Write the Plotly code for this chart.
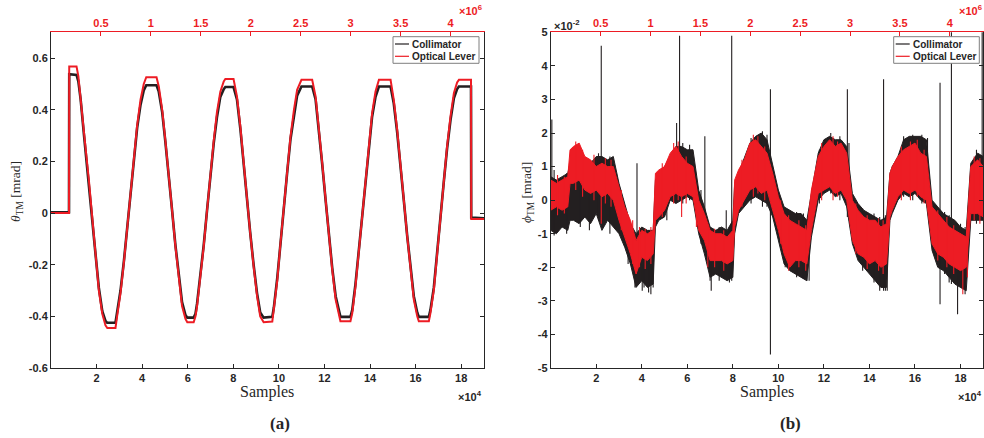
import plotly.graph_objects as go

# ---- panel (a): theta_TM [mrad] vs samples (x in units of 1e4) ----
samp_a = [0.00, 0.79, 0.80, 1.12, 1.20, 1.30, 1.45, 1.66, 1.81, 1.96, 2.10, 2.25, 2.39, 2.47, 2.83,
          2.90, 3.05, 3.20, 3.34, 3.49, 3.64, 3.78, 3.93, 4.07, 4.18, 4.63,
          4.73, 4.88, 5.02, 5.17, 5.31, 5.46, 5.61, 5.75, 5.90, 5.98, 6.26,
          6.34, 6.41, 6.55, 6.70, 6.85, 6.99, 7.14, 7.28, 7.43, 7.58, 7.65, 8.01,
          8.16, 8.31, 8.45, 8.60, 8.74, 8.89, 9.04, 9.18, 9.33, 9.71,
          9.78, 9.93, 10.07, 10.22, 10.37, 10.51, 10.66, 10.80, 10.99, 11.46,
          11.61, 11.75, 11.90, 12.05, 12.19, 12.34, 12.49, 12.63, 12.70, 13.14,
          13.22, 13.36, 13.51, 13.65, 13.80, 13.95, 14.09, 14.24, 14.39, 14.90,
          15.04, 15.19, 15.34, 15.48, 15.63, 15.77, 15.92, 16.07, 16.14, 16.58,
          16.65, 16.80, 16.94, 17.09, 17.24, 17.38, 17.53, 17.68, 17.82, 17.90, 18.43,
          18.44, 19.00]
optlev_a = [0.000, 0.000, 0.568, 0.568, 0.530, 0.450, 0.310, 0.130, -0.010, -0.170, -0.300, -0.390, -0.435, -0.445, -0.445,
            -0.400, -0.310, -0.190, -0.065, 0.077, 0.210, 0.340, 0.440, 0.500, 0.526, 0.526,
            0.490, 0.400, 0.280, 0.155, 0.013, -0.130, -0.260, -0.360, -0.410, -0.423, -0.423,
            -0.400, -0.360, -0.260, -0.130, 0.013, 0.155, 0.280, 0.390, 0.470, 0.510, 0.519, 0.519,
            0.452, 0.335, 0.194, 0.065, -0.077, -0.206, -0.320, -0.400, -0.423, -0.420,
            -0.375, -0.260, -0.116, 0.026, 0.168, 0.297, 0.400, 0.477, 0.516, 0.516,
            0.452, 0.335, 0.194, 0.052, -0.090, -0.219, -0.335, -0.400, -0.419, -0.419,
            -0.387, -0.284, -0.142, 0.000, 0.142, 0.271, 0.387, 0.471, 0.516, 0.516,
            0.439, 0.323, 0.194, 0.052, -0.090, -0.219, -0.335, -0.400, -0.419, -0.419,
            -0.387, -0.297, -0.155, -0.013, 0.129, 0.258, 0.374, 0.465, 0.506, 0.516, 0.516,
            -0.023, -0.023]
collim_a = [0.003, 0.003, 0.538, 0.535, 0.510, 0.440, 0.300, 0.120, -0.010, -0.165, -0.290, -0.380, -0.418, -0.425, -0.425,
            -0.390, -0.300, -0.185, -0.060, 0.075, 0.205, 0.330, 0.420, 0.475, 0.495, 0.495,
            0.470, 0.390, 0.275, 0.150, 0.013, -0.125, -0.250, -0.345, -0.395, -0.405, -0.405,
            -0.390, -0.350, -0.250, -0.125, 0.013, 0.150, 0.270, 0.370, 0.450, 0.480, 0.488, 0.488,
            0.440, 0.325, 0.185, 0.063, -0.075, -0.200, -0.310, -0.385, -0.405, -0.402,
            -0.365, -0.250, -0.112, 0.025, 0.163, 0.287, 0.385, 0.455, 0.490, 0.490,
            0.440, 0.325, 0.190, 0.050, -0.088, -0.212, -0.322, -0.385, -0.402, -0.402,
            -0.375, -0.275, -0.138, 0.000, 0.138, 0.263, 0.373, 0.450, 0.490, 0.490,
            0.425, 0.313, 0.190, 0.050, -0.088, -0.212, -0.322, -0.385, -0.402, -0.402,
            -0.375, -0.288, -0.150, -0.013, 0.125, 0.250, 0.360, 0.445, 0.480, 0.490, 0.490,
            -0.017, -0.020]

# ---- panel (b): phi_TM [1e-2 mrad], noisy band envelopes ----
samp_b = [0.00, 0.25, 0.50, 0.75, 0.85, 1.00, 1.25, 1.50, 1.75, 2.00, 2.25, 2.50, 2.75,
          3.00, 3.25, 3.50, 3.75, 4.00, 4.25, 4.50,
          4.60, 4.75, 5.00, 5.25, 5.50, 5.75, 6.00, 6.25,
          6.50, 6.75, 7.00, 7.25, 7.50, 7.75, 8.00,
          8.08, 8.25, 8.50, 8.75, 9.00, 9.25, 9.50,
          9.75, 10.00, 10.25, 10.50, 10.75, 11.00, 11.25,
          11.45, 11.75, 12.00, 12.25, 12.50, 12.75, 13.00,
          13.25, 13.50, 13.75, 14.00, 14.25, 14.50, 14.75,
          14.90, 15.00, 15.25, 15.50, 15.75, 16.00, 16.25, 16.50,
          16.75, 17.00, 17.25, 17.50, 17.75, 18.00, 18.25,
          18.45, 18.75, 19.00]
optlev_hi = [0.6, 0.5, 0.6, 0.7, 1.5, 1.6, 1.7, 1.3, 1.2, 1.0, 1.1, 1.0, 1.0,
             0.4, -0.2, -0.6, -1.2, -0.9, -1.0, -0.9,
             0.8, 0.9, 1.0, 1.4, 1.6, 1.3, 1.1, 1.0,
             0.0, -0.4, -0.9, -1.0, -1.0, -1.1, -0.9,
             0.6, 0.9, 1.2, 1.7, 1.8, 1.6, 1.4,
             0.8, 0.1, -0.4, -0.6, -0.7, -0.8, -0.9,
             0.3, 1.3, 1.6, 1.8, 1.6, 1.7, 1.4,
             0.0, -0.3, -0.5, -0.6, -0.6, -0.8, -0.7,
             0.8, 1.0, 1.3, 1.5, 1.6, 1.7, 1.4, 1.3,
             -0.2, -0.4, -0.6, -0.8, -0.9, -1.0, -1.1,
             1.0, 1.2, 1.0]
optlev_lo = [-0.3, -0.2, -0.3, -0.2, 0.5, 0.5, 0.6, 0.3, 0.2, 0.3, 0.1, 0.2, 0.0,
             -0.6, -1.1, -1.6, -2.2, -1.7, -1.8, -1.6,
             -0.6, -0.5, -0.3, 0.1, 0.2, 0.1, 0.2, 0.1,
             -0.9, -1.2, -1.8, -1.8, -1.8, -1.9, -1.8,
             -0.8, -0.3, 0.0, 0.3, 0.4, 0.2, 0.3,
             -0.3, -0.9, -1.6, -2.0, -1.8, -1.8, -1.9,
             -0.9, 0.2, 0.3, 0.4, 0.2, 0.3, 0.0,
             -1.2, -1.6, -1.7, -1.9, -1.8, -2.0, -1.9,
             -0.5, -0.3, 0.1, 0.3, 0.2, 0.3, 0.1, 0.0,
             -1.3, -1.6, -1.7, -1.9, -2.0, -2.1, -2.0,
             -0.4, -0.4, -0.5]
collim_hi = [0.7, 0.6, 0.7, 0.8, 1.1, 1.2, 1.3, 1.2, 1.1, 1.3, 1.3, 1.2, 1.3,
             0.5, -0.1, -0.7, -1.0, -0.8, -0.9, -0.9,
             0.6, 0.8, 1.0, 1.3, 1.6, 1.6, 1.5, 1.5,
             0.3, -0.2, -0.8, -0.9, -0.8, -0.9, -0.6,
             0.5, 0.8, 1.2, 1.7, 1.9, 2.0, 1.8,
             1.0, 0.3, -0.2, -0.3, -0.4, -0.4, -0.6,
             0.2, 1.4, 1.8, 1.9, 1.8, 1.8, 1.6,
             0.2, -0.1, -0.3, -0.4, -0.5, -0.6, -0.5,
             0.8, 1.0, 1.3, 1.8, 1.9, 1.9, 1.9, 1.8,
             0.0, -0.2, -0.4, -0.5, -0.6, -0.8, -0.9,
             1.1, 1.4, 1.3]
collim_lo = [-0.9, -1.0, -0.8, -0.9, -0.6, -0.6, -0.7, -0.5, -0.7, -0.4, -0.9, -0.6, -0.8,
             -1.0, -1.4, -1.9, -2.6, -2.4, -2.6, -2.5,
             -0.8, -0.6, -0.5, 0.0, -0.1, 0.0, 0.1, 0.0,
             -1.0, -1.6, -2.3, -2.2, -2.3, -2.4, -2.3,
             -1.0, -0.4, -0.2, 0.0, 0.1, 0.0, -0.1,
             -0.5, -1.2, -1.9, -2.1, -2.2, -2.3, -2.4,
             -1.1, 0.0, 0.2, 0.3, 0.1, 0.2, -0.2,
             -1.3, -1.8, -2.0, -2.2, -2.4, -2.6, -2.6,
             -0.6, -0.4, 0.0, 0.2, 0.1, 0.2, 0.0, -0.1,
             -1.5, -2.0, -2.1, -2.3, -2.5, -2.6, -2.7,
             -0.6, -0.6, -0.6]

# collimator glitches (sample, low, high)
spike_x = [0.05, 2.22, 3.79, 4.02, 4.40, 5.53, 5.66, 6.77, 7.05, 7.71, 7.95, 9.65,
           11.25, 13.03, 14.62, 14.78, 17.10, 17.60, 17.87, 18.95]
spike_lo = [-0.5, -0.5, -2.0, -2.7, -2.8, 0.3, 0.0, -1.0, -2.7, -2.0, -2.4, -4.6,
            -2.4, -0.5, -2.7, -2.7, -3.1, -2.5, -3.4, -0.5]
spike_hi = [2.4, 4.6, 1.1, -1.8, -1.8, 2.3, 4.9, 1.9, -1.5, -0.3, 4.9, 3.3,
            -1.5, 3.3, 3.6, -1.8, 3.5, 5.5, -1.5, 5.5]
# collimator noise streaks poking out of the band
cw_x = [0.15, 0.70, 1.30, 1.70, 2.10, 2.60, 3.40, 3.70, 4.10, 4.30, 4.50, 5.10, 5.80, 6.10,
        6.60, 7.00, 7.40, 7.85, 8.80, 9.30, 9.50, 10.30, 10.80, 11.10, 11.35, 11.80, 12.30,
        12.70, 13.10, 13.70, 14.20, 14.45, 14.70, 15.50, 15.90, 16.30, 16.55, 17.30, 17.50,
        18.00, 18.20, 18.70]
cw_lo = [-1.05, -1.00, -0.80, -0.90, -0.60, -1.00, -1.90, -2.60, -2.60, -2.75, -2.60, -0.60, -0.10, 0.00,
         -1.30, -2.40, -2.40, -2.45, -0.10, -0.20, -0.20, -2.00, -2.30, -2.35, -2.40, -0.10, 0.20,
         0.00, -0.40, -2.10, -2.45, -2.70, -2.70, 0.10, 0.00, -0.10, -0.20, -2.20, -2.45,
         -2.60, -2.80, -0.70]
cw_hi = [0.90, 0.80, 1.20, 1.20, 1.40, 1.30, -0.50, -1.00, -0.90, -0.90, -0.90, 1.10, 1.70, 1.65,
         0.30, -0.80, -0.80, -0.80, 1.85, 2.05, 1.95, -0.30, -0.35, -0.40, -0.50, 1.50, 2.00,
         1.90, 1.70, -0.25, -0.40, -0.50, -0.45, 1.90, 1.95, 1.95, 1.85, -0.35, -0.45,
         -0.70, -0.80, 1.50]
# optical lever noise streaks / dips
rw_x = [0.30, 0.60, 1.10, 1.40, 1.90, 2.22, 2.40, 2.65, 3.10, 3.60, 3.90, 4.15, 4.40, 4.90,
        5.40, 5.60, 5.75, 5.95, 6.40, 6.90, 7.20, 7.60, 8.40, 8.90, 9.10, 9.40, 10.10, 10.45,
        10.90, 11.20, 11.90, 12.40, 12.60, 13.40, 13.90, 14.40, 14.60, 15.40, 15.80, 16.10,
        16.40, 17.00, 17.40, 17.70, 18.10, 18.30, 18.60, 18.85]
rw_lo = [-0.45, -0.40, 0.30, 0.10, 0.00, -0.70, -0.10, -0.20, -0.90, -1.90, -2.00, -2.05, -1.90, -0.50,
         -0.10, 0.00, -0.50, -0.10, -0.80, -2.00, -2.00, -2.10, -0.20, 0.10, 0.20, 0.00, -1.30, -2.10,
         -2.00, -2.10, 0.00, 0.00, 0.10, -1.60, -2.05, -2.10, -2.20, 0.00, 0.00, 0.10,
         -0.10, -1.80, -2.00, -2.20, -2.80, -2.30, -0.60, -0.70]
rw_hi = [0.75, 0.70, 1.75, 1.50, 1.35, 0.20, 1.25, 1.20, 0.30, -0.60, -0.80, -0.85, -0.80, 1.10,
         1.70, 1.75, 0.10, 1.30, 0.40, -0.70, -0.85, -0.90, 1.20, 1.95, 1.90, 1.60, 0.00, -0.45,
         -0.60, -0.75, 1.70, 1.90, 1.75, -0.10, -0.45, -0.55, -0.60, 1.60, 1.75, 1.80,
         1.50, -0.30, -0.50, -0.75, -1.90, -0.90, 1.30, 1.25]

BLACK = "#231f20"
RED = "#ed1c24"
AX = "#262626"


def segs(xs, lo, hi):
    sx, sy = [], []
    for a, b, c in zip(xs, lo, hi):
        sx += [a, a, None]
        sy += [b, c, None]
    return sx, sy


fig = go.Figure()

# panel (a)
fig.add_trace(go.Scatter(x=samp_a, y=collim_a, mode="lines", line=dict(color=BLACK, width=2.6),
                         xaxis="x", yaxis="y"))
fig.add_trace(go.Scatter(x=samp_a, y=optlev_a, mode="lines", line=dict(color=RED, width=2),
                         xaxis="x", yaxis="y"))
fig.add_trace(go.Scatter(x=[], y=[], xaxis="x2", yaxis="y"))

# panel (b)
fig.add_trace(go.Scatter(x=samp_b, y=collim_hi, mode="lines", line=dict(color=BLACK, width=1),
                         xaxis="x3", yaxis="y2"))
fig.add_trace(go.Scatter(x=samp_b, y=collim_lo, mode="lines", line=dict(color=BLACK, width=1),
                         fill="tonexty", fillcolor=BLACK, xaxis="x3", yaxis="y2"))
sx, sy = segs(spike_x + cw_x, spike_lo + cw_lo, spike_hi + cw_hi)
fig.add_trace(go.Scatter(x=sx, y=sy, mode="lines", line=dict(color=BLACK, width=1.1),
                         xaxis="x3", yaxis="y2"))
fig.add_trace(go.Scatter(x=samp_b, y=optlev_hi, mode="lines", line=dict(color=RED, width=1),
                         xaxis="x3", yaxis="y2"))
fig.add_trace(go.Scatter(x=samp_b, y=optlev_lo, mode="lines", line=dict(color=RED, width=1),
                         fill="tonexty", fillcolor=RED, xaxis="x3", yaxis="y2"))
dx, dy = segs(rw_x, rw_lo, rw_hi)
fig.add_trace(go.Scatter(x=dx, y=dy, mode="lines", line=dict(color=RED, width=1.1),
                         xaxis="x3", yaxis="y2"))
fig.add_trace(go.Scatter(x=[], y=[], xaxis="x4", yaxis="y2"))

W, H = 984, 438
XA = [51 / W, 484 / W]
XB = [550.7 / W, 983.3 / W]
YD = [1 - 368 / H, 1 - 32.3 / H]

tick_font = dict(family="Liberation Sans", size=11, color=AX, weight="bold")
red_font = dict(family="Liberation Sans", size=11, color=RED, weight="bold")
bottom = dict(range=[0, 19], tickvals=[2, 4, 6, 8, 10, 12, 14, 16, 18], ticks="inside", ticklen=4,
              tickcolor=AX, showline=True, linecolor=AX, linewidth=1, showgrid=False,
              zeroline=False, tickfont=tick_font, automargin=False)
top_vals = [0.5, 1, 1.5, 2, 2.5, 3, 3.5, 4]
top = dict(range=[0, 4.335], tickvals=top_vals, ticktext=[f"{v:g}" for v in top_vals], side="top",
           ticks="inside", ticklen=4, tickcolor=RED, showline=True, linecolor=RED, linewidth=1,
           showgrid=False, zeroline=False, tickfont=red_font, automargin=False)
left_common = dict(ticks="inside", ticklen=4, tickcolor=AX, showline=True, linecolor=AX, linewidth=1,
                   mirror="ticks", showgrid=False, zeroline=False, tickfont=tick_font,
                   automargin=False, domain=YD)

fig.update_layout(
    width=W, height=H, margin=dict(l=0, r=0, t=0, b=0), template="none",
    paper_bgcolor="white", plot_bgcolor="white", showlegend=False,
    xaxis=dict(domain=XA, anchor="y", **bottom),
    xaxis2=dict(overlaying="x", anchor="y", **top),
    yaxis=dict(anchor="x", range=[-0.6, 0.7], tickvals=[-0.6, -0.4, -0.2, 0, 0.2, 0.4, 0.6],
               ticktext=["-0.6", "-0.4", "-0.2", "0", "0.2", "0.4", "0.6"], **left_common),
    xaxis3=dict(domain=XB, anchor="y2", **bottom),
    xaxis4=dict(overlaying="x3", anchor="y2", **top),
    yaxis2=dict(anchor="x3", range=[-5, 5], tickvals=list(range(-5, 6)),
                ticktext=[str(v) for v in range(-5, 6)], **left_common),
)

ann = []
serif = "Liberation Serif"
sans_b = dict(family="Liberation Sans", size=11, color=AX, weight="bold")


def note(px, py, text, font, xanchor="center", **kw):
    ann.append(dict(x=px / W, y=1 - py / H, text=text, showarrow=False, font=font,
                    xanchor=xanchor, yanchor="middle", xref="paper", yref="paper", **kw))


note(280, 423, "<b>(a)</b>", dict(family=serif, size=17, color=AX))
note(790, 423, "<b>(b)</b>", dict(family=serif, size=17, color=AX))
note(267, 392, "Samples", dict(family=serif, size=16, color=AX))
note(767, 392, "Samples", dict(family=serif, size=16, color=AX))
for rx in [484, 984]:
    note(rx, 396, "×10<sup>4</sup>", sans_b, xanchor="right")
    note(rx, 10, "×10<sup>6</sup>", dict(sans_b, color=RED), xanchor="right")
note(552, 25, "×10<sup>-2</sup>", sans_b, xanchor="left")
note(16, 192, "<i>θ</i><sub>TM</sub> [mrad]", dict(family=serif, size=13.5, color=AX), textangle=-90)
note(527, 193, "<i>ϕ</i><sub>TM</sub> [mrad]", dict(family=serif, size=13.5, color=AX), textangle=-90)

# legends drawn by hand to match the compact box
shapes = []
for bx0, bx1 in [(393, 479), (893.7, 979.3)]:
    shapes.append(dict(type="rect", xref="paper", yref="paper", x0=bx0 / W, x1=bx1 / W,
                       y0=1 - 63.3 / H, y1=1 - 36.7 / H, fillcolor="white",
                       line=dict(color="#7f7f7f", width=1), layer="above"))
    for ry, col, name in [(44, BLACK, "Collimator"), (56.3, RED, "Optical Lever")]:
        shapes.append(dict(type="line", xref="paper", yref="paper", x0=(bx0 + 2) / W,
                           x1=(bx0 + 16) / W, y0=1 - ry / H, y1=1 - ry / H,
                           line=dict(color=col, width=1.2), layer="above"))
        note(bx0 + 17, ry, name, dict(family="Liberation Sans", size=10, color=AX, weight="bold"),
             xanchor="left")

fig.update_layout(annotations=ann, shapes=shapes)

# drop the browser's default page margin so the figure sits at the window corner
fig.write_html("out.html", config={"displayModeBar": False},
               post_script="document.body.style.margin='0px';")
